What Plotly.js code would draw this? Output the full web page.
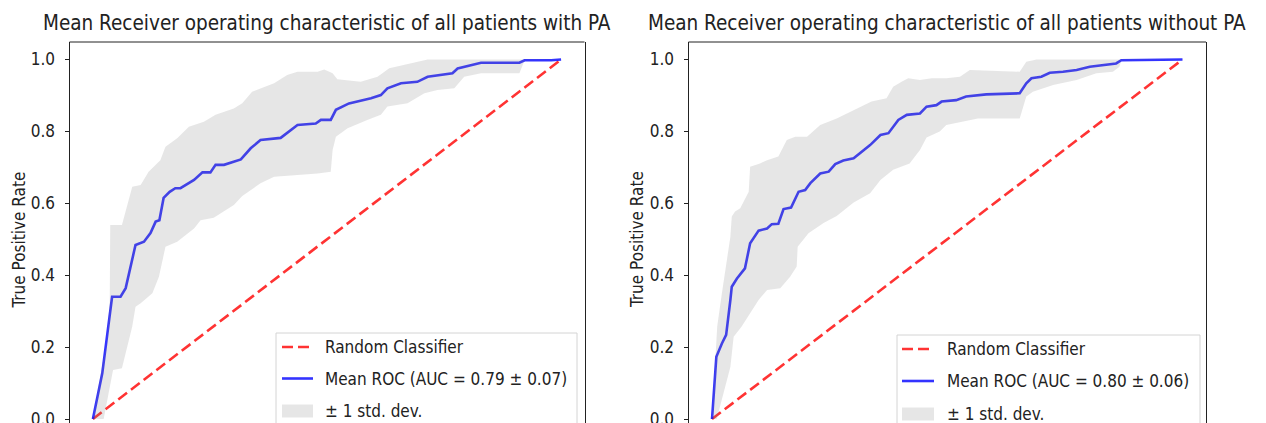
<!DOCTYPE html>
<html>
<head>
<meta charset="utf-8">
<script src="https://cdn.plot.ly/plotly-3.0.1.min.js"></script>
<style>
html,body{margin:0;padding:0;background:#fff;overflow:hidden;}
#chart{width:1266px;height:423px;}
</style>
</head>
<body>
<div id="chart"></div>
<script>
// ---------- data ----------
const titles = ["Mean Receiver operating characteristic of all patients with PA",
                "Mean Receiver operating characteristic of all patients without PA"];
const yLabel = "True Positive Rate";
const yTickVals = [0, 0.2, 0.4, 0.6, 0.8, 1.0];
const yTickText = ["0.0", "0.2", "0.4", "0.6", "0.8", "1.0"];
const legendLabels = [
  ["Random Classifier", "Mean ROC (AUC = 0.79 \u00b1 0.07)", "\u00b1 1 std. dev."],
  ["Random Classifier", "Mean ROC (AUC = 0.80 \u00b1 0.06)", "\u00b1 1 std. dev."]
];
const chanceX = [0, 1];
const chanceY = [0, 1];

// patients with PA
const withMeanX = [0,0.02,0.041,0.059,0.07,0.091,0.109,0.123,0.134,0.142,0.151,0.164,0.176,0.187,0.216,0.234,0.251,0.262,0.28,0.316,0.337,0.358,0.401,0.437,0.476,0.487,0.508,0.519,0.547,0.594,0.615,0.629,0.658,0.693,0.715,0.768,0.779,0.793,0.829,0.911,0.922,0.979,1.0];
const withMeanY = [0,0.127,0.34,0.34,0.364,0.484,0.493,0.517,0.549,0.553,0.615,0.632,0.642,0.642,0.665,0.686,0.686,0.707,0.707,0.722,0.753,0.776,0.782,0.818,0.822,0.832,0.832,0.86,0.878,0.892,0.901,0.92,0.934,0.938,0.952,0.962,0.975,0.98,0.991,0.991,0.998,0.998,1.0];
const withUpperX = [0,0.02,0.03,0.036,0.037,0.062,0.084,0.102,0.119,0.144,0.155,0.18,0.205,0.237,0.262,0.301,0.319,0.34,0.387,0.415,0.437,0.48,0.494,0.512,0.522,0.572,0.608,0.633,0.715,1.0];
const withUpperY = [0,0.15,0.21,0.33,0.54,0.54,0.646,0.651,0.688,0.72,0.757,0.781,0.813,0.827,0.846,0.864,0.878,0.91,0.934,0.957,0.966,0.966,0.972,0.962,0.945,0.938,0.952,0.976,1.0,1.0];
const withLowerX = [0,0.023,0.043,0.062,0.084,0.091,0.102,0.127,0.141,0.155,0.18,0.216,0.23,0.258,0.301,0.319,0.358,0.387,0.444,0.48,0.508,0.512,0.519,0.544,0.586,0.615,0.629,0.672,0.708,0.736,0.772,0.793,0.829,0.911,0.922,1.0];
const withLowerY = [0,0,0.136,0.141,0.257,0.312,0.322,0.35,0.396,0.479,0.493,0.53,0.553,0.56,0.595,0.62,0.656,0.674,0.68,0.683,0.688,0.748,0.785,0.809,0.832,0.846,0.869,0.878,0.906,0.915,0.92,0.952,0.962,0.962,0.998,1.0];

// patients without PA
const withoutMeanX = [0,0.0092,0.021,0.03,0.039,0.042,0.053,0.07,0.081,0.099,0.117,0.127,0.141,0.152,0.168,0.184,0.198,0.209,0.23,0.248,0.262,0.279,0.301,0.336,0.358,0.375,0.396,0.414,0.442,0.456,0.477,0.488,0.519,0.54,0.583,0.654,0.668,0.679,0.7,0.718,0.746,0.775,0.803,0.838,0.859,0.87,1.0];
const withoutMeanY = [0,0.173,0.21,0.234,0.331,0.368,0.391,0.419,0.489,0.524,0.53,0.542,0.543,0.584,0.588,0.632,0.637,0.656,0.683,0.688,0.709,0.719,0.725,0.762,0.79,0.795,0.832,0.846,0.85,0.869,0.873,0.883,0.887,0.897,0.903,0.906,0.934,0.948,0.952,0.963,0.966,0.971,0.98,0.985,0.989,0.998,1.0];
const withoutUpperX = [0,0.005,0.011,0.021,0.039,0.042,0.049,0.06,0.078,0.081,0.102,0.117,0.141,0.159,0.177,0.202,0.23,0.265,0.318,0.339,0.371,0.385,0.403,0.417,0.442,0.467,0.498,0.527,0.548,0.654,0.668,0.69,1.0];
const withoutUpperY = [0,0.12,0.257,0.35,0.507,0.563,0.577,0.586,0.632,0.702,0.711,0.72,0.73,0.776,0.785,0.785,0.818,0.836,0.869,0.883,0.892,0.924,0.938,0.948,0.943,0.948,0.948,0.952,0.971,0.966,0.994,1.0,1.0];
const withoutLowerX = [0,0.01,0.039,0.046,0.063,0.085,0.099,0.117,0.145,0.166,0.18,0.182,0.205,0.237,0.265,0.301,0.336,0.358,0.385,0.42,0.442,0.456,0.484,0.498,0.533,0.565,0.654,0.668,0.682,0.725,0.775,0.817,0.852,0.866,0.87,1.0];
const withoutLowerY = [0,0,0.145,0.229,0.257,0.303,0.331,0.359,0.364,0.396,0.424,0.479,0.517,0.545,0.565,0.602,0.628,0.665,0.693,0.711,0.748,0.783,0.8,0.818,0.827,0.836,0.836,0.897,0.91,0.929,0.943,0.962,0.966,0.98,0.998,1.0];

// ---------- styling ----------
const W = 1266, H = 423, MT = 42, MB = 0;
const FONT = "'DejaVu Sans Condensed', 'DejaVu Sans', sans-serif";
const TXT = '#222222';
const RED = 'rgba(255,0,0,0.8)';
const BLUE = 'rgba(0,0,255,0.8)';
const GREY = 'rgba(128,128,128,0.2)';
const DASH = '11px,5px';
const PH = H - MT - MB;
const px = v => v / W;                 // pixel -> paper x
const py = v => (H - MB - v) / PH;     // pixel -> paper y

const panels = [
  {mx: withMeanX, my: withMeanY, ux: withUpperX, uy: withUpperY, lx: withLowerX, ly: withLowerY,
   xa: 'x', ya: 'y', dom: [69.5, 584.5], ylab: 18.5, leg: {l: 276, r: 577, t: 333, rows: [347, 378.5, 411], s0: 282, s1: 313, tx: 323}},
  {mx: withoutMeanX, my: withoutMeanY, ux: withoutUpperX, uy: withoutUpperY, lx: withoutLowerX, ly: withoutLowerY,
   xa: 'x2', ya: 'y2', dom: [688.5, 1206], ylab: 637, leg: {l: 897, r: 1200, t: 335, rows: [349, 381, 414], s0: 902, s1: 934, tx: 945}}
];

const traces = [];
const shapes = [];
const annotations = [];

panels.forEach((p, i) => {
  traces.push({x: chanceX, y: chanceY, xaxis: p.xa, yaxis: p.ya, mode: 'lines',
    line: {color: RED, width: 2.6, dash: DASH}, showlegend: false, hoverinfo: 'skip'});
  traces.push({x: p.mx, y: p.my, xaxis: p.xa, yaxis: p.ya, mode: 'lines',
    line: {color: BLUE, width: 2.6}, showlegend: false});
  traces.push({x: p.ux.concat(p.lx.slice().reverse()), y: p.uy.concat(p.ly.slice().reverse()),
    xaxis: p.xa, yaxis: p.ya, mode: 'lines', fill: 'toself', fillcolor: GREY,
    line: {width: 0, color: 'rgba(0,0,0,0)'}, showlegend: false, hoverinfo: 'skip'});

  const xr = p.xa === 'x' ? 'x domain' : 'x2 domain';
  const yr = p.ya === 'y' ? 'y domain' : 'y2 domain';
  shapes.push({type: 'line', xref: xr, yref: yr, x0: 0, x1: 1, y0: 1, y1: 1, line: {color: TXT, width: 1}});

  annotations.push({text: titles[i], xref: 'paper', yref: 'paper', x: px((p.dom[0] + p.dom[1]) / 2), y: py(23),
    xanchor: 'center', yanchor: 'middle', showarrow: false, font: {family: FONT, size: 20.5, color: TXT}});
  annotations.push({text: yLabel, xref: 'paper', yref: 'paper', x: px(p.ylab), y: py(240), textangle: -90,
    xanchor: 'center', yanchor: 'middle', showarrow: false, font: {family: FONT, size: 17, color: TXT}});

  // legend (drawn as box, samples and text)
  const L = p.leg;
  shapes.push({type: 'rect', xref: 'paper', yref: 'paper', x0: px(L.l), x1: px(L.r), y0: py(440), y1: py(L.t),
    line: {color: '#d4d4d4', width: 1}, fillcolor: 'rgba(255,255,255,0.85)', layer: 'above'});
  shapes.push({type: 'line', xref: 'paper', yref: 'paper', x0: px(L.s0), x1: px(L.s1), y0: py(L.rows[0]), y1: py(L.rows[0]),
    line: {color: RED, width: 2.6, dash: DASH}, layer: 'above'});
  shapes.push({type: 'line', xref: 'paper', yref: 'paper', x0: px(L.s0), x1: px(L.s1), y0: py(L.rows[1]), y1: py(L.rows[1]),
    line: {color: BLUE, width: 2.6}, layer: 'above'});
  shapes.push({type: 'rect', xref: 'paper', yref: 'paper', x0: px(L.s0), x1: px(L.s1), y0: py(L.rows[2] + 6.5), y1: py(L.rows[2] - 6.5),
    line: {width: 0}, fillcolor: GREY, layer: 'above'});
  legendLabels[i].forEach((t, k) => {
    annotations.push({text: t, xref: 'paper', yref: 'paper', x: px(L.tx), y: py(L.rows[k]),
      xanchor: 'left', yanchor: 'middle', showarrow: false, font: {family: FONT, size: 17, color: TXT}});
  });
});

function xAxis(dom, anchor) {
  return {domain: [px(dom[0]), px(dom[1])], range: [-0.05, 1.05], anchor: anchor,
    showticklabels: false, ticks: '', showgrid: false, zeroline: false, showline: false, fixedrange: true};
}
function yAxis(anchor) {
  return {anchor: anchor, range: [-0.0111, 1.0487], tickmode: 'array', tickvals: yTickVals, ticktext: yTickText,
    ticks: 'outside', ticklen: 4, tickwidth: 1, tickcolor: TXT, ticklabelstandoff: 6, ticklabeloverflow: 'allow',
    tickfont: {family: FONT, size: 17, color: TXT},
    showline: true, mirror: true, linecolor: TXT, linewidth: 1, showgrid: false, zeroline: false, fixedrange: true};
}

const layout = {
  width: W, height: H,
  margin: {l: 0, r: 0, t: MT, b: MB, pad: 0},
  paper_bgcolor: '#ffffff', plot_bgcolor: '#ffffff',
  showlegend: false,
  font: {family: FONT, color: TXT},
  xaxis: xAxis(panels[0].dom, 'y'),
  xaxis2: xAxis(panels[1].dom, 'y2'),
  yaxis: yAxis('x'),
  yaxis2: yAxis('x2'),
  shapes: shapes,
  annotations: annotations
};

Plotly.newPlot('chart', traces, layout, {staticPlot: true, displayModeBar: false});
</script>
</body>
</html>
